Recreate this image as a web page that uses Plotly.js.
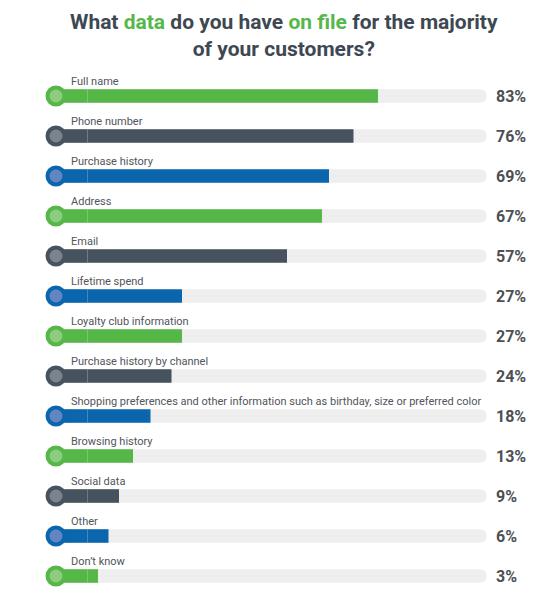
<!DOCTYPE html>
<html>
<head>
<meta charset="utf-8">
<script src="https://cdn.plot.ly/plotly-3.0.1.min.js"></script>
<style>html,body{margin:0;padding:0;background:#fff;}#chart{width:560px;height:600px;}</style>
</head>
<body>
<div id="chart"></div>
<script>
const categories = ["Full name","Phone number","Purchase history","Address","Email","Lifetime spend","Loyalty club information","Purchase history by channel","Shopping preferences and other information such as birthday, size or preferred color","Browsing history","Social data","Other","Don\u2019t know"];
const values = [83,76,69,67,57,27,27,24,18,13,9,6,3];
const colorGroup = ["green","slate","blue","green","slate","blue","green","slate","blue","green","slate","blue","green"];

const palette = {
  green: {main:"#55b748", inner:"#8dcc80"},
  slate: {main:"#46525e", inner:"#7b838d"},
  blue:  {main:"#0b66ad", inner:"#6186c2"}
};
const mainColors = colorGroup.map(g => palette[g].main);
const innerColors = colorGroup.map(g => palette[g].inner);

const TRACK_START = -9, TRACK_END = 114;

const traces = [
  { type:"bar", orientation:"h", y:categories, x:categories.map(()=>TRACK_END-TRACK_START), base:TRACK_START,
    marker:{color:"#eeeeee", cornerradius:7}, width:0.34, hoverinfo:"skip" },
  { type:"bar", orientation:"h", y:categories, x:categories.map(()=>-TRACK_START), base:TRACK_START,
    marker:{color:mainColors}, width:0.34, hoverinfo:"skip" },
  { type:"bar", orientation:"h", y:categories, x:values, base:0,
    marker:{color:mainColors}, width:0.34 },
  { type:"scatter", mode:"markers", y:categories, x:categories.map(()=>TRACK_START),
    marker:{size:17, color:innerColors, line:{color:mainColors, width:4}}, hoverinfo:"skip" }
];

const annotations = [];
categories.forEach((c,i)=>{
  annotations.push({x:-5.4, y:i, xref:"x", yref:"y", text:c, showarrow:false, xanchor:"left", yanchor:"middle",
    yshift:15, font:{family:"Roboto", size:11, color:"#50555b"}});
  annotations.push({x:116.1, y:i, xref:"x", yref:"y", text:values[i]+"%", showarrow:false, xanchor:"left", yanchor:"middle",
    font:{family:"Roboto", size:16, color:"#4d4f53", weight:"bold"}});
});
annotations.push({
  text:"What <span style='color:#56b84a'>data</span> do you have <span style='color:#56b84a'>on file</span> for the majority<br>of your customers?",
  xref:"paper", yref:"paper", x:0.508, y:1.0788, xanchor:"center", yanchor:"middle", showarrow:false,
  font:{family:"Roboto", size:21, color:"#3e4852", weight:"bold"}
});

const layout = {
  width:560, height:600,
  margin:{l:0, r:0, t:76, b:4},
  paper_bgcolor:"#fff", plot_bgcolor:"#fff",
  barmode:"overlay", showlegend:false,
  xaxis:{range:[-25,135], visible:false, fixedrange:true},
  yaxis:{type:"category", categoryorder:"array", categoryarray:categories, range:[12.5,-0.5], autorange:false, visible:false, fixedrange:true},
  annotations:annotations
};

Plotly.newPlot("chart", traces, layout, {displayModeBar:false, staticPlot:true});
</script>
</body>
</html>
